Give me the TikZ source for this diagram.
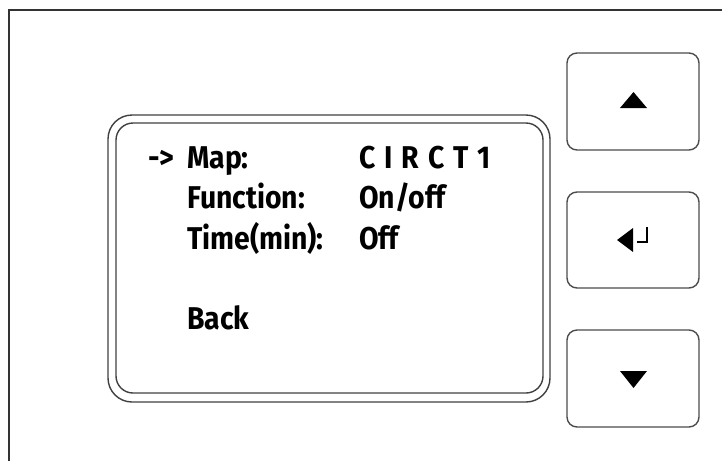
\documentclass[tikz,border=0pt]{standalone}
\usepackage{fontspec}
\newfontfamily\lcdfont{Fira Sans}[FakeStretch=0.9]
\begin{document}
\begin{tikzpicture}[x=1pt,y=-1pt,
  frame/.style={draw=black!80,line width=2pt},
  screenline/.style={draw=black!75,line width=1.4pt},
  button/.style={draw=black!70,line width=1.4pt,rounded corners=10pt},
  lcd/.style={anchor=base west,inner sep=0pt,font=\lcdfont\bfseries\fontsize{31.5}{32}\selectfont},
  glyph/.style={fill=black,draw=none}]
\useasboundingbox (0,0) rectangle (722,461);
% outer frame (top and left edges only)
\coordinate (fl) at (9,461);
\coordinate (ftl) at (9,10);
\coordinate (fr) at (722,10);
\draw[frame] (fl) -- (ftl) -- (fr);
% screen
\draw[screenline,rounded corners=24pt] (108,115) rectangle (550,402);
\draw[screenline,rounded corners=17pt] (116,123) rectangle (543,393);
% texts
\node[lcd] (arrow) at (148,168) {->};
\node[lcd] (map) at (187,168) {Map:};
\node[lcd] (mapv) at (359,168) {\spaceskip=9pt C I R C T 1};
\node[lcd] (fun) at (187,208) {Function:};
\node[lcd] (funv) at (359,208) {On/off};
\node[lcd] (time) at (187,249) {Time(min):};
\node[lcd] (timev) at (359,249) {Off};
\node[lcd] (back) at (187,329) {Back};
% buttons
\draw[button] (567,53) rectangle (699,150);
\draw[button] (567,192) rectangle (699,288);
\draw[button] (567,330) rectangle (699,427);
% up triangle
\fill[glyph] (620,108) -- (647,108) -- (633.5,92) -- cycle;
% down triangle
\fill[glyph] (620,371) -- (647,371) -- (633.5,388) -- cycle;
% enter symbol
\fill[glyph] (617,240) -- (633,228) -- (633,252) -- cycle;
\draw[line width=2pt,black] (647,227) -- (647,242) -- (637,242);
\end{tikzpicture}
\end{document}
